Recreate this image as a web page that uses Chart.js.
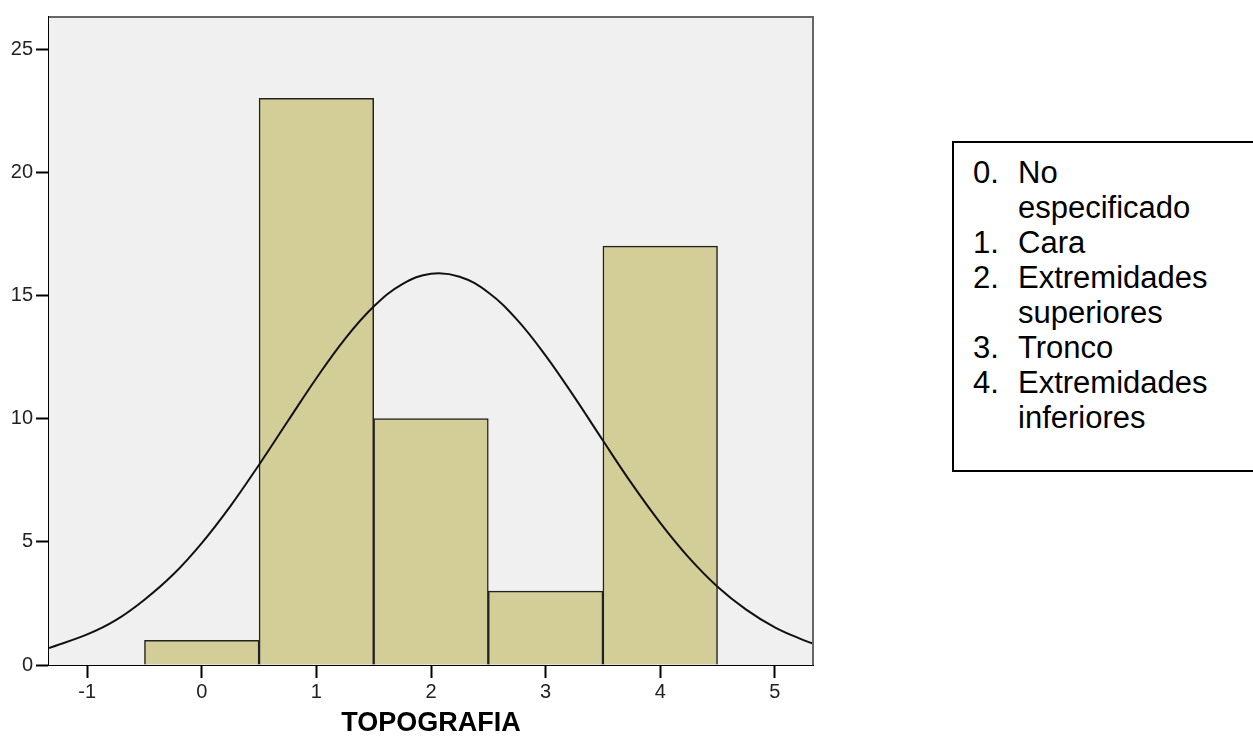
<!DOCTYPE html>
<html lang="es">
<head>
    <meta charset="UTF-8">
    <meta name="viewport" content="width=device-width, initial-scale=1.0">
    <title>Topografía</title>
    <script src="https://cdn.jsdelivr.net/npm/chart.js"></script>
    <style>
        body {
            margin: 0;
            background: #fff;
            font-family: Arial, "Liberation Sans", sans-serif;
        }
        .wrap {
            position: relative;
            width: 1253px;
            height: 747px;
            overflow: hidden;
        }
        #chartBox {
            position: absolute;
            left: 0;
            top: 0;
            width: 840px;
            height: 747px;
        }
        .legend {
            position: absolute;
            left: 952px;
            top: 141px;
            width: 330px;
            height: 331px;
            border: 2px solid #000;
            box-sizing: border-box;
            padding: 12px 0 0 19px;
            font-size: 31px;
            line-height: 35px;
            color: #000;
        }
        .legend .row {
            display: flex;
        }
        .legend .num {
            width: 45px;
            flex: none;
        }
        .legend .name {
            width: 212px;
        }
    </style>
</head>
<body>
    <div class="wrap">
        <div id="chartBox"><canvas id="histChart"></canvas></div>
        <div class="legend" id="legend"></div>
    </div>

    <script>
        // histogram counts per category
        const categories = [0, 1, 2, 3, 4];
        const counts = [1, 23, 10, 3, 17];
        const categoryNames = ['No especificado', 'Cara', 'Extremidades superiores', 'Tronco', 'Extremidades inferiores'];

        // normal curve, read along the x axis
        const curveX = [-1.333, -1, -0.75, -0.5, -0.25, 0, 0.25, 0.5, 0.75, 1, 1.25, 1.5, 1.75, 2, 2.25, 2.5, 2.75, 3, 3.25, 3.5, 3.75, 4, 4.25, 4.5, 4.75, 5, 5.25, 5.333];
        const curveY = [0.69, 1.24, 1.82, 2.65, 3.67, 4.95, 6.45, 8.13, 9.89, 11.64, 13.24, 14.55, 15.46, 15.88, 15.76, 15.12, 14.02, 12.56, 10.88, 9.11, 7.37, 5.77, 4.36, 3.18, 2.25, 1.53, 1.01, 0.87];

        const xTicks = [-1, 0, 1, 2, 3, 4, 5];
        const yTicks = [0, 5, 10, 15, 20, 25];

        // legend box
        const legendEl = document.getElementById('legend');
        categories.forEach((c, i) => {
            const row = document.createElement('div');
            row.className = 'row';
            row.innerHTML = `<span class="num">${c}.</span><span class="name">${categoryNames[i]}</span>`;
            legendEl.appendChild(row);
        });

        const plotFrame = {
            id: 'plotFrame',
            beforeDatasetsDraw(chart) {
                const { ctx, chartArea: a } = chart;
                ctx.save();
                ctx.fillStyle = '#f0f0f0';
                ctx.fillRect(a.left, a.top, a.right - a.left, a.bottom - a.top);
                ctx.restore();
            },
            afterDraw(chart) {
                const { ctx, chartArea: a } = chart;
                ctx.save();
                ctx.strokeStyle = '#666';
                ctx.lineWidth = 2;
                ctx.beginPath();
                ctx.moveTo(a.left, a.top);
                ctx.lineTo(a.right, a.top);
                ctx.lineTo(a.right, a.bottom);
                ctx.stroke();
                ctx.restore();
            }
        };

        const tickFont = { family: 'Arial, "Liberation Sans", sans-serif', size: 20 };

        new Chart(document.getElementById('histChart'), {
            type: 'bar',
            data: {
                datasets: [
                    {
                        type: 'line',
                        data: curveX.map((x, i) => ({ x: x, y: curveY[i] })),
                        borderColor: '#111',
                        borderWidth: 2,
                        pointRadius: 0,
                        tension: 0.4,
                        fill: false,
                        order: 0
                    },
                    {
                        type: 'bar',
                        data: categories.map((c, i) => ({ x: c, y: counts[i] })),
                        backgroundColor: '#d3ce97',
                        borderColor: '#222',
                        borderWidth: 1.5,
                        barPercentage: 1,
                        categoryPercentage: 1,
                        order: 1
                    }
                ]
            },
            options: {
                responsive: true,
                maintainAspectRatio: false,
                animation: false,
                layout: { padding: { top: 17, right: 27, left: 0, bottom: 0 } },
                plugins: {
                    legend: { display: false },
                    tooltip: { enabled: false }
                },
                scales: {
                    x: {
                        type: 'linear',
                        min: -1.333,
                        max: 5.333,
                        offset: false,
                        afterBuildTicks: scale => { scale.ticks = xTicks.map(v => ({ value: v })); },
                        afterFit: scale => { scale.height = 82; },
                        grid: { offset: false, drawOnChartArea: false, drawTicks: true, tickLength: 13, tickColor: '#000', tickWidth: 2 },
                        border: { color: '#000', width: 2 },
                        ticks: { font: tickFont, color: '#222', padding: 2, maxRotation: 0 },
                        title: {
                            display: true,
                            text: 'TOPOGRAFIA',
                            color: '#000',
                            font: { family: 'Arial, "Liberation Sans", sans-serif', size: 27, weight: 'bold' },
                            padding: { top: 0, bottom: 7 }
                        }
                    },
                    y: {
                        min: 0,
                        max: 26.3,
                        afterBuildTicks: scale => { scale.ticks = yTicks.map(v => ({ value: v })); },
                        afterFit: scale => { scale.width = 49; },
                        grid: { drawOnChartArea: false, drawTicks: true, tickLength: 13, tickColor: '#000', tickWidth: 2 },
                        border: { color: '#000', width: 2 },
                        ticks: { font: tickFont, color: '#222', padding: 3 }
                    }
                }
            },
            plugins: [plotFrame]
        });
    </script>
</body>
</html>
